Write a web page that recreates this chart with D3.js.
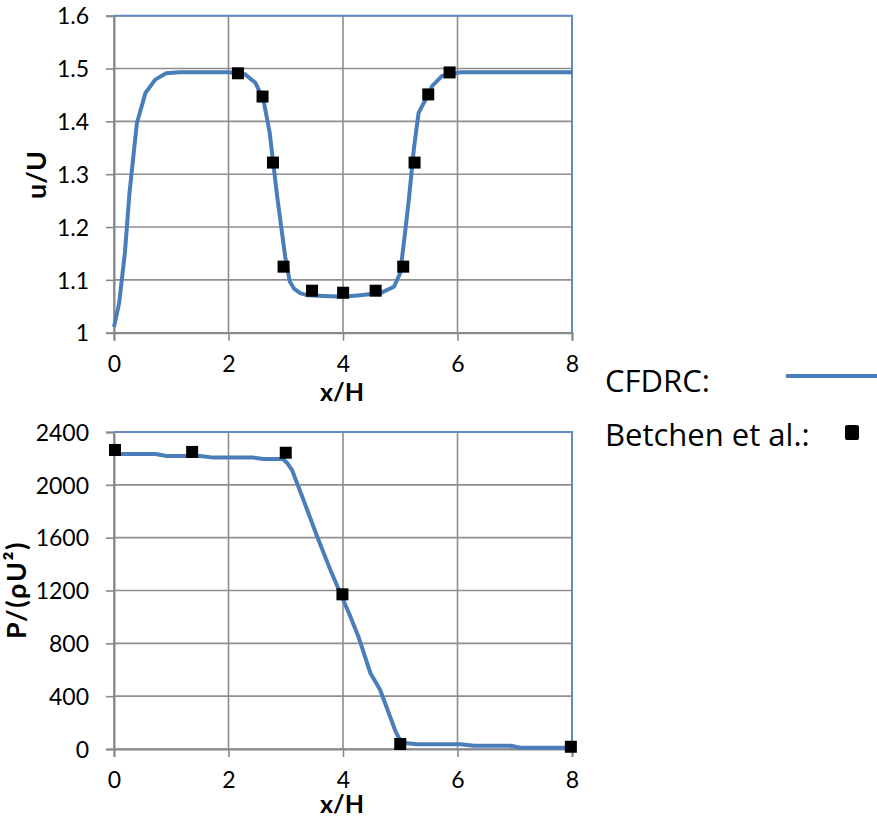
<!DOCTYPE html>
<html>
<head>
<meta charset="utf-8">
<script src="https://cdn.jsdelivr.net/npm/d3@7/dist/d3.min.js"></script>
<style>
  body { margin: 0; background: #fff; }
  svg text { font-family: Lato, "Open Sans", sans-serif; fill: #000; }
  .tick text { font-size: 23px; }
  .axistitle { font-size: 25px; font-weight: bold; }
  .ytitle { font-size: 27px; font-weight: bold; }
  .legendtext { font-family: "Open Sans", Lato, sans-serif; font-size: 31px; }
</style>
</head>
<body>
<svg id="chart" width="877" height="820"></svg>
<script>
// x ticks shared by both panes
var xTicks      = [0, 2, 4, 6, 8];
var xTickLabels = ["0", "2", "4", "6", "8"];

// top pane: u/U
var uTicks      = [1, 1.1, 1.2, 1.3, 1.4, 1.5, 1.6];
var uTickLabels = ["1", "1.1", "1.2", "1.3", "1.4", "1.5", "1.6"];
var cfdUx = [0, 0.09, 0.19, 0.27, 0.40, 0.55, 0.72, 0.91, 1.15, 2.0, 2.29, 2.47, 2.61, 2.72, 2.85, 2.99, 3.07, 3.14, 3.25, 3.37, 3.78, 4.0, 4.30, 4.65, 4.89, 5.0, 5.09, 5.15, 5.24, 5.32, 5.44, 5.56, 5.73, 6.05, 8];
var cfdU  = [1.011, 1.056, 1.151, 1.264, 1.397, 1.454, 1.479, 1.491, 1.493, 1.493, 1.489, 1.473, 1.441, 1.378, 1.258, 1.144, 1.097, 1.084, 1.075, 1.071, 1.069, 1.068, 1.071, 1.075, 1.087, 1.113, 1.195, 1.252, 1.35, 1.416, 1.441, 1.467, 1.486, 1.493, 1.493];
var expUx = [2.165, 2.595, 2.777, 2.962, 3.459, 4.002, 4.570, 5.052, 5.250, 5.489, 5.862];
var expU  = [1.491, 1.447, 1.322, 1.125, 1.0795, 1.0757, 1.0795, 1.125, 1.322, 1.451, 1.4926];

// bottom pane: P/(rho U^2)
var pTicks      = [0, 400, 800, 1200, 1600, 2000, 2400];
var pTickLabels = ["0", "400", "800", "1200", "1600", "2000", "2400"];
var cfdPx = [0, 0.72, 0.92, 1.50, 1.74, 2.44, 2.61, 2.95, 3.03, 3.11, 3.31, 3.55, 3.78, 3.98, 4.13, 4.27, 4.48, 4.65, 4.92, 5.00, 5.12, 5.30, 6.05, 6.29, 6.93, 7.10, 8];
var cfdP  = [2233, 2233, 2218, 2218, 2206, 2206, 2196, 2196, 2163, 2112, 1885, 1607, 1355, 1153, 1002, 850, 573, 447, 131, 63, 43, 36, 36, 25, 25, 10, 10];
var expPx = [0.0175, 1.365, 3.0, 3.99, 5.0, 7.98];
var expP  = [2264, 2249, 2243, 1171, 38, 17];

var lineColor = "#4a7ebb";
var gridColor = "#8e8e8e";

var svg = d3.select("#chart");

function drawPane(opt) {
    var x = d3.scaleLinear().domain([0, 8]).range([114, 572]);
    var y = d3.scaleLinear().domain(opt.ydomain).range(opt.yrange);
    var g = svg.append("g");

    // gridlines
    g.selectAll(".hgrid")
        .data(opt.yticks)
        .enter().append("line")
            .attr("x1", x(0)).attr("x2", x(8))
            .attr("y1", function(d) { return y(d); })
            .attr("y2", function(d) { return y(d); })
            .attr("stroke", gridColor).attr("stroke-width", 1.6);
    g.selectAll(".vgrid")
        .data(xTicks)
        .enter().append("line")
            .attr("x1", function(d) { return x(d); })
            .attr("x2", function(d) { return x(d); })
            .attr("y1", y(opt.ydomain[0])).attr("y2", y(opt.ydomain[1]))
            .attr("stroke", gridColor).attr("stroke-width", 1.6);

    // blue plot border (top, right)
    g.append("path")
        .attr("d", "M" + x(0) + "," + y(opt.ydomain[1]) + "H" + x(8) + "V" + y(opt.ydomain[0]))
        .attr("fill", "none")
        .attr("stroke", "#5f8bc4")
        .attr("stroke-width", 2);

    // axes
    var yaxis = g.append("g")
        .attr("transform", "translate(" + x(0) + ",0)")
        .call(d3.axisLeft(y).tickValues(opt.yticks)
              .tickFormat(function(d, i) { return opt.ylabels[i]; })
              .tickSize(8).tickPadding(17));
    var xaxis = g.append("g")
        .attr("transform", "translate(0," + y(opt.ydomain[0]) + ")")
        .call(d3.axisBottom(x).tickValues(xTicks)
              .tickFormat(function(d, i) { return xTickLabels[i]; })
              .tickSize(8).tickPadding(15));
    [yaxis, xaxis].forEach(function(a) {
        a.attr("font-size", null).attr("font-family", null);
        a.select(".domain").attr("stroke", "#868a8e").attr("stroke-width", 2);
        a.selectAll(".tick line").attr("stroke", "#868a8e").attr("stroke-width", 1.6);
    });
    yaxis.selectAll(".tick text").attr("dy", "0.36em");

    // CFDRC line
    var line = d3.line()
        .x(function(d) { return x(d[0]); })
        .y(function(d) { return y(d[1]); });
    g.append("path")
        .datum(d3.zip(opt.cx, opt.cy))
        .attr("d", line)
        .attr("fill", "none")
        .attr("stroke", lineColor)
        .attr("stroke-width", 4)
        .attr("stroke-linejoin", "round");

    // Betchen et al. markers
    g.selectAll(".marker")
        .data(d3.zip(opt.ex, opt.ey))
        .enter().append("rect")
            .attr("x", function(d) { return x(d[0]) - 6; })
            .attr("y", function(d) { return y(d[1]) - 6; })
            .attr("width", 12)
            .attr("height", 12)
            .attr("fill", "#000");

    // titles
    g.append("text")
        .attr("class", "axistitle")
        .attr("x", 342)
        .attr("y", opt.xtitleY)
        .attr("text-anchor", "middle")
        .text("x/H");
    g.append("text")
        .attr("class", "ytitle")
        .attr("transform", "translate(" + opt.ytitleX + "," + opt.ytitleY + ") rotate(-90)")
        .attr("text-anchor", "middle")
        .style("letter-spacing", opt.ytitleSpacing)
        .text(opt.ytitle);
}

drawPane({
    ydomain: [1, 1.6], yrange: [332.7, 15.7],
    yticks: uTicks, ylabels: uTickLabels,
    cx: cfdUx, cy: cfdU, ex: expUx, ey: expU,
    xtitleY: 401, ytitle: "u/U", ytitleX: 46, ytitleY: 175, ytitleSpacing: "0px"
});

drawPane({
    ydomain: [0, 2400], yrange: [749, 432],
    yticks: pTicks, ylabels: pTickLabels,
    cx: cfdPx, cy: cfdP, ex: expPx, ey: expP,
    xtitleY: 813, ytitle: "P/(\u03c1U\u00b2)", ytitleX: 26, ytitleY: 590, ytitleSpacing: "1.5px"
});

// legend
var legend = svg.append("g");
legend.append("text")
    .attr("class", "legendtext")
    .attr("x", 605).attr("y", 392)
    .text("CFDRC:");
legend.append("line")
    .attr("x1", 786).attr("x2", 877)
    .attr("y1", 376).attr("y2", 376)
    .attr("stroke", lineColor)
    .attr("stroke-width", 4);
legend.append("text")
    .attr("class", "legendtext")
    .attr("x", 605).attr("y", 446)
    .text("Betchen et al.:");
legend.append("rect")
    .attr("x", 845).attr("y", 425)
    .attr("width", 14).attr("height", 15)
    .attr("rx", 2)
    .attr("fill", "#000");
</script>
</body>
</html>
